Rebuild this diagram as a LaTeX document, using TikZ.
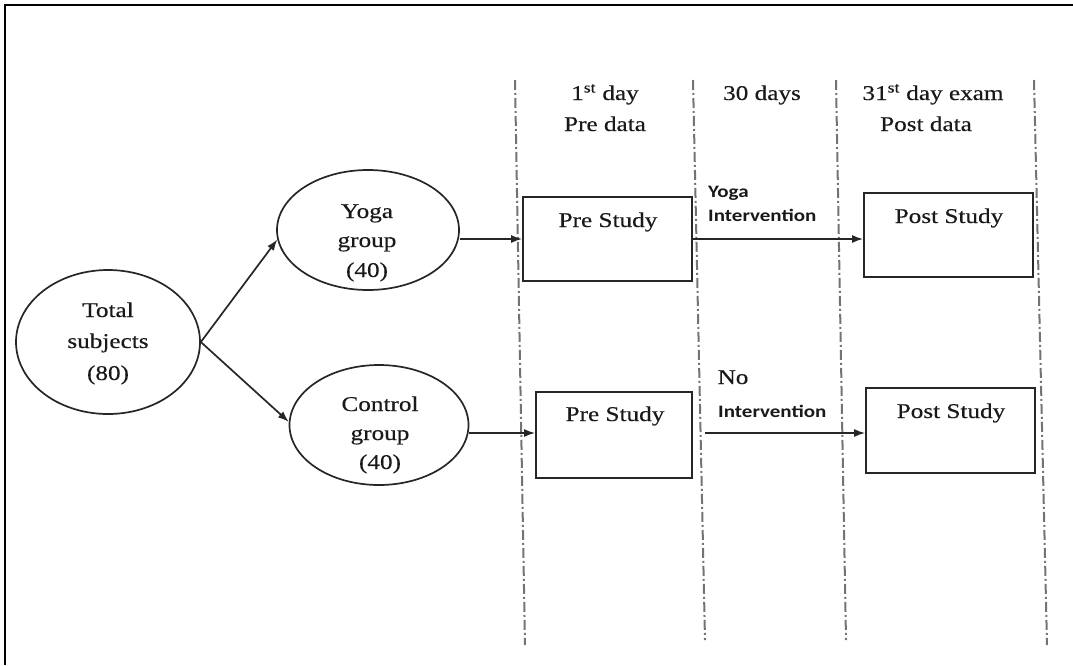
\documentclass[tikz,border=0pt]{standalone}
\usepackage{fontspec}
\setmainfont{Liberation Serif}[FakeStretch=1.2,FakeBold=0.35]
\newfontfamily\labfont{Carlito}[FakeStretch=1.2]
\usetikzlibrary{shapes.geometric,arrows.meta}
\begin{document}
\begin{tikzpicture}[x=1pt,y=-1pt,
  shapeline/.style={draw=black!85, line width=1.7pt},
  ell/.style={shapeline, ellipse, inner sep=0pt},
  boxshape/.style={shapeline, rectangle, inner sep=0pt},
  txt/.style={font=\fontsize{21}{31}\selectfont, text=black!90, inner sep=0pt, anchor=base},
  lab/.style={font=\labfont\bfseries\fontsize{17.5}{24}\selectfont, text=black!90, inner sep=0pt, anchor=base west},
  arr/.style={draw=black!85, line width=1.7pt, -{Latex[length=11pt,width=8pt]}},
  phase/.style={draw=black!55, line width=2pt, dash pattern=on 10pt off 3pt on 2pt off 3pt}]
\useasboundingbox (0,0) rectangle (1073,665);
\draw[line width=1.5pt] (5,665) -- (5,5) -- (1073,5);

% phase separators
\draw[phase] (515,80) -- (525,645);
\draw[phase] (693,80) -- (705,640);
\draw[phase] (836,80) -- (846,640);
\draw[phase] (1034,80) -- (1047,645);

% headers
\node[txt] (h1a) at (605,100) {1\textsuperscript{st} day};
\node[txt] (h1b) at (605,131) {Pre data};
\node[txt] (h2) at (762,100) {30 days};
\node[txt] (h3a) at (933,100) {31\textsuperscript{st} day exam};
\node[txt] (h3b) at (926,131) {Post data};

% ellipses
\node[ell, minimum width=184pt, minimum height=144pt] (total) at (108,342) {};
\node[txt] (t1) at (108,317) {Total};
\node[txt] (t2) at (108,348) {subjects};
\node[txt] (t3) at (108,380) {(80)};

\node[ell, minimum width=182pt, minimum height=120pt] (yoga) at (368,230) {};
\node[txt] (y1) at (367,218) {Yoga};
\node[txt] (y2) at (367,247) {group};
\node[txt] (y3) at (367,277) {(40)};

\node[ell, minimum width=179pt, minimum height=120pt] (control) at (379,425) {};
\node[txt] (c1) at (380,411) {Control};
\node[txt] (c2) at (380,440) {group};
\node[txt] (c3) at (380,469) {(40)};

% boxes
\node[boxshape, minimum width=169pt, minimum height=84pt] (pre1) at (607.5,239) {};
\node[txt] (pre1t) at (608,227) {Pre Study};
\node[boxshape, minimum width=156pt, minimum height=86pt] (pre2) at (614,435) {};
\node[txt] (pre2t) at (615,421) {Pre Study};
\node[boxshape, minimum width=169pt, minimum height=84pt] (post1) at (948.5,235) {};
\node[txt] (post1t) at (949,223) {Post Study};
\node[boxshape, minimum width=169pt, minimum height=85pt] (post2) at (950.5,430.5) {};
\node[txt] (post2t) at (951,418) {Post Study};

% intervention labels
\node[lab] (l1) at (708,197) {Yoga};
\node[lab] (l2) at (708,221) {Intervention};
\node[txt] (l3) at (733,384) {No};
\node[lab] (l4) at (718,417) {Intervention};

% connectors
\draw[arr] (total.east) -- (yoga.186);
\draw[arr] (total.east) -- (control.178);
\draw[arr] (yoga.east |- pre1.west) -- (pre1.west);
\draw[arr] (control.east |- 0,433) -- (pre2.west |- 0,433);
\draw[arr] (pre1.east) -- (pre1.east -| post1.west);
\coordinate (n0) at (705,433);
\draw[arr] (n0) -- (n0 -| post2.west);
\end{tikzpicture}
\end{document}
